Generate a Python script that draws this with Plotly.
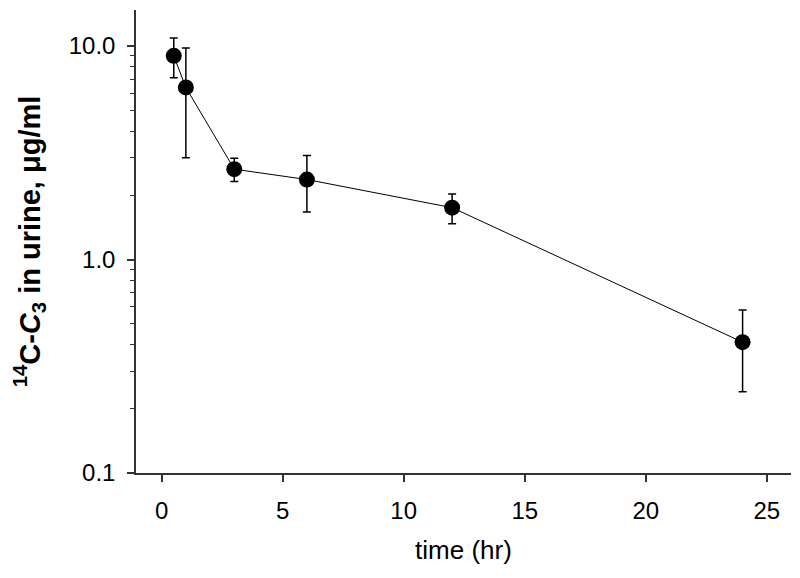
import plotly.graph_objects as go

# Data
time_hr = [0.5, 1, 3, 6, 12, 24]
conc = [9.0, 6.4, 2.65, 2.37, 1.75, 0.41]
conc_err = [1.9, 3.4, 0.33, 0.7, 0.28, 0.17]

y_tickvals = [0.1, 1, 10]
y_ticktext = ["0.1", "1.0", "10.0"]
y_minor = [0.2, 0.3, 0.4, 0.5, 0.6, 0.7, 0.8, 0.9, 2, 3, 4, 5, 6, 7, 8, 9]
x_tickvals = [0, 5, 10, 15, 20, 25]

fig = go.Figure()
fig.add_trace(go.Scatter(
    x=time_hr, y=conc,
    mode="lines+markers",
    line=dict(color="black", width=1),
    marker=dict(color="black", size=16, symbol="circle"),
    error_y=dict(type="data", array=conc_err, visible=True,
                 color="black", thickness=1.5, width=4),
    showlegend=False,
))

axis_color = "#333333"
fig.update_layout(
    width=800, height=578,
    margin=dict(l=128, r=17, t=2, b=113),
    paper_bgcolor="white", plot_bgcolor="white",
    font=dict(family="Liberation Sans, Arial, sans-serif", color="black"),
    xaxis=dict(
        range=[-1.06, 26.0],
        tickvals=x_tickvals,
        ticks="outside", ticklen=7, tickwidth=1.5, tickcolor=axis_color,
        showline=True, linecolor=axis_color, linewidth=1.5,
        showgrid=False, zeroline=False,
        tickfont=dict(size=24),
        ticklabelstandoff=8,
        automargin=True,
        title=dict(text="time (hr)", font=dict(size=26), standoff=18),
    ),
    yaxis=dict(
        type="log",
        range=[-1, 1.169],
        tickvals=y_tickvals, ticktext=y_ticktext,
        ticks="outside", ticklen=7, tickwidth=1.5, tickcolor=axis_color,
        minor=dict(tickvals=y_minor, ticks="outside", ticklen=4,
                   tickwidth=1.2, tickcolor=axis_color, showgrid=False),
        showline=True, linecolor=axis_color, linewidth=1.5,
        showgrid=False, zeroline=False,
        tickfont=dict(size=24),
        ticklabelstandoff=7,
        automargin=True,
        title=dict(text="<b><sup>14</sup>C-<i>C</i><sub>3</sub> in urine, μg/ml</b>",
                   font=dict(size=29), standoff=20),
    ),
)

fig.write_html("out.html")
